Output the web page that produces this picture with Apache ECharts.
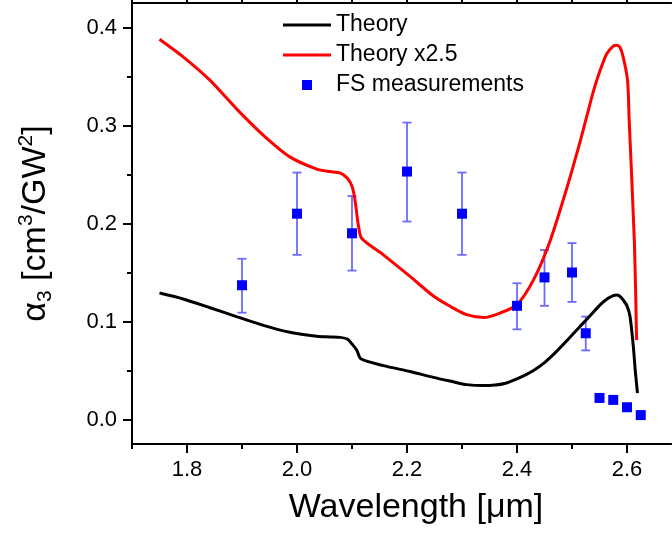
<!DOCTYPE html>
<html><head><meta charset="utf-8">
<script src="https://cdn.jsdelivr.net/npm/echarts@6/dist/echarts.min.js"></script>
<style>html,body{margin:0;padding:0;background:#fff}#c{width:672px;height:533px}</style>
</head><body><div id="c"></div>
<script>
// Theory (black)
const theoryX = [1.75,1.793,1.842,1.89,1.939,1.987,2.036,2.06,2.078,2.092,2.1,2.1085,2.116,2.157,2.2055,2.248,2.28,2.3085,2.339,2.36,2.381,2.41,2.43,2.45,2.472,2.49,2.5145,2.53,2.551,2.565,2.575,2.581,2.587,2.593,2.6,2.6055,2.6115,2.615,2.619];
const theoryY = [0.129,0.123,0.114,0.105,0.096,0.089,0.085,0.0843,0.0838,0.082,0.077,0.071,0.062,0.055,0.049,0.043,0.039,0.0356,0.0346,0.0352,0.0373,0.044,0.050,0.058,0.0695,0.080,0.095,0.104,0.117,0.1235,0.1265,0.127,0.1258,0.122,0.116,0.105,0.0746,0.05,0.027];
// Theory x2.5 (red)
const theory25X = [1.75,1.793,1.842,1.89,1.939,1.987,2.036,2.06,2.078,2.092,2.1,2.105,2.1115,2.1175,2.157,2.2055,2.248,2.28,2.3085,2.339,2.369,2.3995,2.43,2.46,2.49,2.5145,2.5267,2.539,2.551,2.563,2.575,2.581,2.587,2.593,2.601,2.604,2.6135,2.6175];
const theory25Y = [0.388,0.370,0.346,0.317,0.290,0.268,0.2555,0.253,0.2517,0.246,0.238,0.2256,0.1985,0.185,0.168,0.146,0.126,0.115,0.107,0.104,0.1086,0.117,0.1425,0.182,0.235,0.283,0.309,0.335,0.356,0.373,0.381,0.382,0.38,0.370,0.346,0.305,0.18,0.081];
// FS measurements
const measX = [1.9,2.0,2.1,2.2,2.3,2.4,2.45,2.5,2.525,2.55,2.575,2.6,2.625];
const measY = [0.137,0.210,0.190,0.253,0.210,0.116,0.145,0.150,0.088,0.022,0.020,0.0125,0.0045];
const errLow  = [0.109,0.168,0.152,0.202,0.168,0.092,0.116,0.120,0.0705,null,null,null,null];
const errHigh = [0.164,0.252,0.228,0.303,0.252,0.139,0.173,0.180,0.105,null,null,null,null];
// ticks
const xMajorTicks = [1.8,2.0,2.2,2.4,2.6];
const xMinorTicks = [1.7,1.9,2.1,2.3,2.5];
const yMajorTicks = [0,0.1,0.2,0.3,0.4];
const yMinorTicks = [0.05,0.15,0.25,0.35];

const FONT = "'Liberation Sans', Arial, sans-serif";
const chart = echarts.init(document.getElementById('c'), null, {renderer:'canvas'});

const lineData = (xs, ys) => xs.map((x,i)=>[x, ys[i]]);
const errData = [];
measX.forEach((x,i)=>{ if (errLow[i] != null) errData.push([x, errLow[i], errHigh[i]]); });

const XMIN = 1.7, XMAX = 2.68, YMIN = -0.025, YMAX = 0.425;
const axisLine = {show:true, onZero:false, lineStyle:{color:'#000', width:2}};
function xAx(pos, ticks, len, labels){
  return {type:'value', position:pos, min:XMIN, max:XMAX, axisLine,
    splitLine:{show:false},
    axisTick:{show:true, customValues:ticks, length:len, lineStyle:{color:'#000', width:2}},
    axisLabel:{show:labels, customValues:ticks, margin:15, color:'#000', fontSize:22, fontFamily:FONT,
      formatter:v=>v.toFixed(1)}};
}
function yAx(ticks, len, labels){
  return {type:'value', position:'left', min:YMIN, max:YMAX, axisLine,
    splitLine:{show:false},
    axisTick:{show:true, customValues:ticks, length:len, lineStyle:{color:'#000', width:2}},
    axisLabel:{show:labels, customValues:ticks, margin:15, color:'#000', fontSize:22, fontFamily:FONT,
      formatter:v=>v.toFixed(1)}};
}
const xAxes = [xAx('bottom', xMajorTicks, 9, true), xAx('bottom', xMinorTicks, 5, false),
               xAx('top', xMajorTicks, 9, false), xAx('top', xMinorTicks, 5, false)];
xAxes[0].name = 'Wavelength [\u03bcm]';
xAxes[0].nameLocation = 'middle';
xAxes[0].nameGap = 47;
xAxes[0].nameTextStyle = {fontSize:34, fontFamily:FONT, color:'#000', padding:[0,0,0,29]};
const yAxes = [yAx(yMajorTicks, 9, true), yAx(yMinorTicks, 5, false)];
yAxes[0].name = '{a|\u03b1}{sub|3}{a| [cm}{sup|3}{a|/GW}{sup|2}{a|]}';
yAxes[0].nameLocation = 'middle';
yAxes[0].nameRotate = 90;
yAxes[0].nameGap = 76;
yAxes[0].nameTextStyle = {fontFamily:FONT, color:'#000',
  rich:{
    a:{fontSize:34, fontFamily:FONT, color:'#000', lineHeight:40, verticalAlign:'middle'},
    sup:{fontSize:21, fontFamily:FONT, color:'#000', lineHeight:40, verticalAlign:'top'},
    sub:{fontSize:21, fontFamily:FONT, color:'#000', lineHeight:40, verticalAlign:'bottom'}
  }};

const LINE_ICON = 'path://M0,0H16V1H0Z';
chart.setOption({
  animation:false,
  backgroundColor:'#fff',
  grid:{left:132, right:1, top:3, bottom:89, containLabel:false, outerBoundsMode:'none'},
  xAxis:xAxes,
  yAxis:yAxes,
  legend:{
    orient:'vertical', left:283, top:13, padding:0, itemWidth:48, itemHeight:10, itemGap:6,
    textStyle:{fontSize:23, fontFamily:FONT, color:'#000', lineHeight:24},
    data:[{name:'Theory', icon:LINE_ICON},{name:'Theory x2.5', icon:LINE_ICON},
          {name:'FS measurements', icon:'path://M0,0L1,0L1,1L0,1Z'}],
    symbolKeepAspect:true
  },
  series:[
    {type:'custom', name:'err', xAxisIndex:0, yAxisIndex:0, data:errData, z:2, silent:true,
      renderItem:(params, api)=>{
        const x = api.value(0), lo = api.value(1), hi = api.value(2);
        const pt = api.coord([x, hi]), pb = api.coord([x, lo]);
        const w = 4.5, st = {stroke:'#6b6bff', lineWidth:1.8};
        return {type:'group', children:[
          {type:'line', shape:{x1:pt[0], y1:pt[1], x2:pb[0], y2:pb[1]}, style:st},
          {type:'line', shape:{x1:pt[0]-w, y1:pt[1], x2:pt[0]+w, y2:pt[1]}, style:st},
          {type:'line', shape:{x1:pb[0]-w, y1:pb[1], x2:pb[0]+w, y2:pb[1]}, style:st}
        ]};
      }},
    {type:'line', name:'Theory', data:lineData(theoryX, theoryY), showSymbol:false, symbol:'none',
      smooth:0.25, lineStyle:{color:'#000', width:3}, itemStyle:{color:'#000'}, z:3},
    {type:'line', name:'Theory x2.5', data:lineData(theory25X, theory25Y), showSymbol:false, symbol:'none',
      smooth:0.25, lineStyle:{color:'#ff0000', width:3}, itemStyle:{color:'#ff0000'}, z:3},
    {type:'scatter', name:'FS measurements', data:lineData(measX, measY), symbol:'rect', symbolSize:10,
      itemStyle:{color:'#0000ff', opacity:1}, z:4}
  ]
});
</script></body></html>
